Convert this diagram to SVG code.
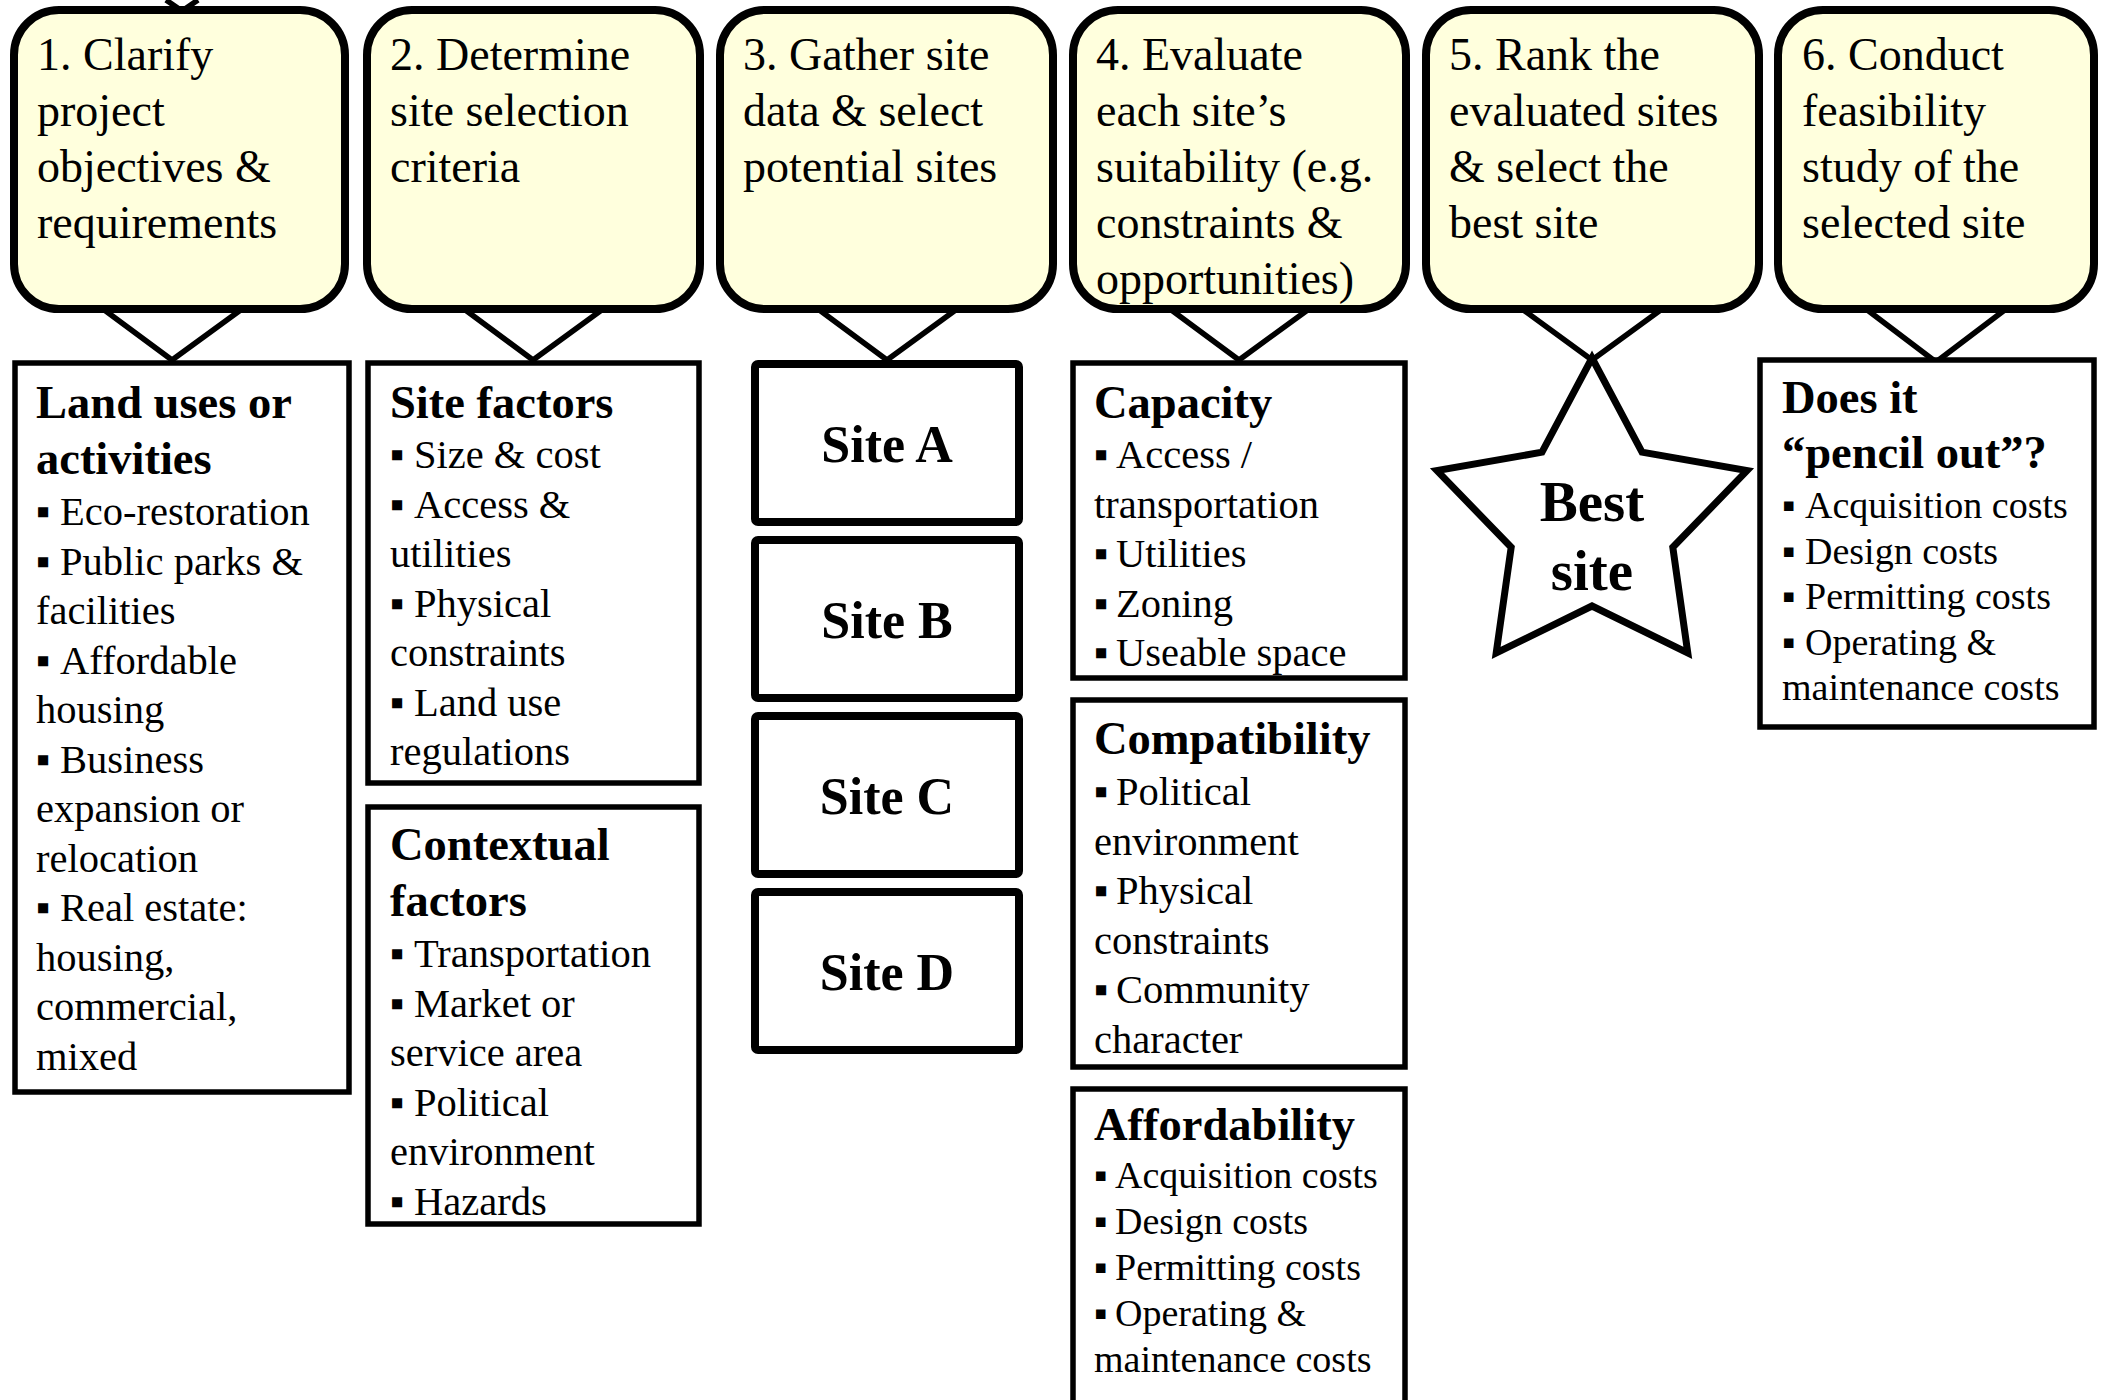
<svg xmlns="http://www.w3.org/2000/svg" width="2107" height="1400" viewBox="0 0 2107 1400">
<style>
.step{fill:#FFFFDD;stroke:#000;stroke-width:8}
.box{fill:#fff;stroke:#000;stroke-width:5.5}
.site{fill:#fff;stroke:#000;stroke-width:8}
.star{fill:#fff;stroke:#000;stroke-width:7;stroke-linejoin:miter}
.conn{fill:none;stroke:#000;stroke-width:5.5;stroke-linejoin:miter}
text{font-family:"Liberation Serif","Times New Roman",serif;fill:#000}
.t{font-size:46px}
.h{font-size:46.5px;font-weight:bold}
.b{font-size:40.5px}
.s{font-size:38px}
.sl{font-size:52px;font-weight:bold;text-anchor:middle}
.bs{font-size:57px;font-weight:bold;text-anchor:middle}
</style>
<rect width="2107" height="1400" fill="#fff"/>
<g id="connectors">
<path class="conn" d="M166,0 L182,11 L198,0"/>
<path class="conn" d="M103,309 L172,360 L242,309"/>
<path class="conn" d="M464,309 L533,360 L603,309"/>
<path class="conn" d="M818,309 L887,360 L957,309"/>
<path class="conn" d="M1170,309 L1239,360 L1309,309"/>
<path class="conn" d="M1522,309 L1592,360 L1662,309"/>
<path class="conn" d="M1866,309 L1936,362 L2006,309"/>
</g>
<g id="step1"><rect class="step" x="14" y="10" width="331" height="299" rx="45"/>
<text class="t" x="37" y="70">1. Clarify</text><text class="t" x="37" y="126">project</text><text class="t" x="37" y="182">objectives &amp;</text><text class="t" x="37" y="238">requirements</text></g>
<g id="step2"><rect class="step" x="367" y="10" width="333" height="299" rx="45"/>
<text class="t" x="390" y="70">2. Determine</text><text class="t" x="390" y="126">site selection</text><text class="t" x="390" y="182">criteria</text></g>
<g id="step3"><rect class="step" x="720" y="10" width="333" height="299" rx="45"/>
<text class="t" x="743" y="70">3. Gather site</text><text class="t" x="743" y="126">data &amp; select</text><text class="t" x="743" y="182">potential sites</text></g>
<g id="step4"><rect class="step" x="1073" y="10" width="333" height="299" rx="45"/>
<text class="t" x="1096" y="70">4. Evaluate</text><text class="t" x="1096" y="126">each site’s</text><text class="t" x="1096" y="182">suitability (e.g.</text><text class="t" x="1096" y="238">constraints &amp;</text><text class="t" x="1096" y="294">opportunities)</text></g>
<g id="step5"><rect class="step" x="1426" y="10" width="333" height="299" rx="45"/>
<text class="t" x="1449" y="70">5. Rank the</text><text class="t" x="1449" y="126">evaluated sites</text><text class="t" x="1449" y="182">&amp; select the</text><text class="t" x="1449" y="238">best site</text></g>
<g id="step6"><rect class="step" x="1778" y="10" width="316" height="299" rx="45"/>
<text class="t" x="1802" y="70">6. Conduct</text><text class="t" x="1802" y="126">feasibility</text><text class="t" x="1802" y="182">study of the</text><text class="t" x="1802" y="238">selected site</text></g>

<g id="land-uses"><rect class="box" x="15" y="363" width="334" height="729"/>
<text class="h" x="36" y="418">Land uses or</text><text class="h" x="36" y="474">activities</text>
<text class="b" y="525"><tspan x="36">▪</tspan><tspan x="60">Eco-restoration</tspan></text>
<text class="b" y="574.5"><tspan x="36">▪</tspan><tspan x="60">Public parks &amp;</tspan></text>
<text class="b" x="36" y="624">facilities</text>
<text class="b" y="673.5"><tspan x="36">▪</tspan><tspan x="60">Affordable</tspan></text>
<text class="b" x="36" y="723">housing</text>
<text class="b" y="772.5"><tspan x="36">▪</tspan><tspan x="60">Business</tspan></text>
<text class="b" x="36" y="822">expansion or</text>
<text class="b" x="36" y="871.5">relocation</text>
<text class="b" y="921"><tspan x="36">▪</tspan><tspan x="60">Real estate:</tspan></text>
<text class="b" x="36" y="970.5">housing,</text>
<text class="b" x="36" y="1020">commercial,</text>
<text class="b" x="36" y="1069.5">mixed</text></g>

<g id="site-factors"><rect class="box" x="368" y="363" width="331" height="420"/>
<text class="h" x="390" y="418">Site factors</text>
<text class="b" y="468"><tspan x="390">▪</tspan><tspan x="414">Size &amp; cost</tspan></text>
<text class="b" y="517.5"><tspan x="390">▪</tspan><tspan x="414">Access &amp;</tspan></text>
<text class="b" x="390" y="567">utilities</text>
<text class="b" y="616.5"><tspan x="390">▪</tspan><tspan x="414">Physical</tspan></text>
<text class="b" x="390" y="666">constraints</text>
<text class="b" y="715.5"><tspan x="390">▪</tspan><tspan x="414">Land use</tspan></text>
<text class="b" x="390" y="765">regulations</text></g>

<g id="contextual-factors"><rect class="box" x="368" y="807" width="331" height="417"/>
<text class="h" x="390" y="860">Contextual</text><text class="h" x="390" y="916">factors</text>
<text class="b" y="967"><tspan x="390">▪</tspan><tspan x="414">Transportation</tspan></text>
<text class="b" y="1016.5"><tspan x="390">▪</tspan><tspan x="414">Market or</tspan></text>
<text class="b" x="390" y="1066">service area</text>
<text class="b" y="1115.5"><tspan x="390">▪</tspan><tspan x="414">Political</tspan></text>
<text class="b" x="390" y="1165">environment</text>
<text class="b" y="1214.5"><tspan x="390">▪</tspan><tspan x="414">Hazards</tspan></text></g>

<g id="site-a"><rect class="site" x="755" y="364" width="264" height="158" rx="3"/><text class="sl" x="887" y="462">Site A</text></g>
<g id="site-b"><rect class="site" x="755" y="540" width="264" height="158" rx="3"/><text class="sl" x="887" y="638">Site B</text></g>
<g id="site-c"><rect class="site" x="755" y="716" width="264" height="158" rx="3"/><text class="sl" x="887" y="814">Site C</text></g>
<g id="site-d"><rect class="site" x="755" y="892" width="264" height="158" rx="3"/><text class="sl" x="887" y="990">Site D</text></g>

<g id="capacity"><rect class="box" x="1073" y="363" width="332" height="315"/>
<text class="h" x="1094" y="418">Capacity</text>
<text class="b" y="468"><tspan x="1094">▪</tspan><tspan x="1116">Access /</tspan></text>
<text class="b" x="1094" y="517.5">transportation</text>
<text class="b" y="567"><tspan x="1094">▪</tspan><tspan x="1116">Utilities</tspan></text>
<text class="b" y="616.5"><tspan x="1094">▪</tspan><tspan x="1116">Zoning</tspan></text>
<text class="b" y="666"><tspan x="1094">▪</tspan><tspan x="1116">Useable space</tspan></text></g>

<g id="compatibility"><rect class="box" x="1073" y="700" width="332" height="367"/>
<text class="h" x="1094" y="754">Compatibility</text>
<text class="b" y="805"><tspan x="1094">▪</tspan><tspan x="1116">Political</tspan></text>
<text class="b" x="1094" y="854.5">environment</text>
<text class="b" y="904"><tspan x="1094">▪</tspan><tspan x="1116">Physical</tspan></text>
<text class="b" x="1094" y="953.5">constraints</text>
<text class="b" y="1003"><tspan x="1094">▪</tspan><tspan x="1116">Community</tspan></text>
<text class="b" x="1094" y="1052.5">character</text></g>

<g id="affordability"><rect class="box" x="1073" y="1089" width="332" height="400"/>
<text class="h" x="1094" y="1140">Affordability</text>
<text class="s" y="1188"><tspan x="1094">▪</tspan><tspan x="1115">Acquisition costs</tspan></text>
<text class="s" y="1234"><tspan x="1094">▪</tspan><tspan x="1115">Design costs</tspan></text>
<text class="s" y="1280"><tspan x="1094">▪</tspan><tspan x="1115">Permitting costs</tspan></text>
<text class="s" y="1326"><tspan x="1094">▪</tspan><tspan x="1115">Operating &amp;</tspan></text>
<text class="s" x="1094" y="1372">maintenance costs</text></g>

<g id="best-site"><polygon class="star" points="1592,358 1642,452.2 1747,470.6 1672.8,547.3 1687.8,652.9 1592,606 1496.2,652.9 1511.2,547.3 1437,470.6 1542,452.2"/>
<text class="bs" x="1592" y="521">Best</text><text class="bs" x="1592" y="590">site</text></g>

<g id="pencil-out"><rect class="box" x="1760" y="360" width="334" height="367"/>
<text class="h" x="1782" y="413">Does it</text><text class="h" x="1782" y="468">“pencil out”?</text>
<text class="s" y="518"><tspan x="1782">▪</tspan><tspan x="1805">Acquisition costs</tspan></text>
<text class="s" y="563.5"><tspan x="1782">▪</tspan><tspan x="1805">Design costs</tspan></text>
<text class="s" y="609"><tspan x="1782">▪</tspan><tspan x="1805">Permitting costs</tspan></text>
<text class="s" y="654.5"><tspan x="1782">▪</tspan><tspan x="1805">Operating &amp;</tspan></text>
<text class="s" x="1782" y="700">maintenance costs</text></g>
</svg>
